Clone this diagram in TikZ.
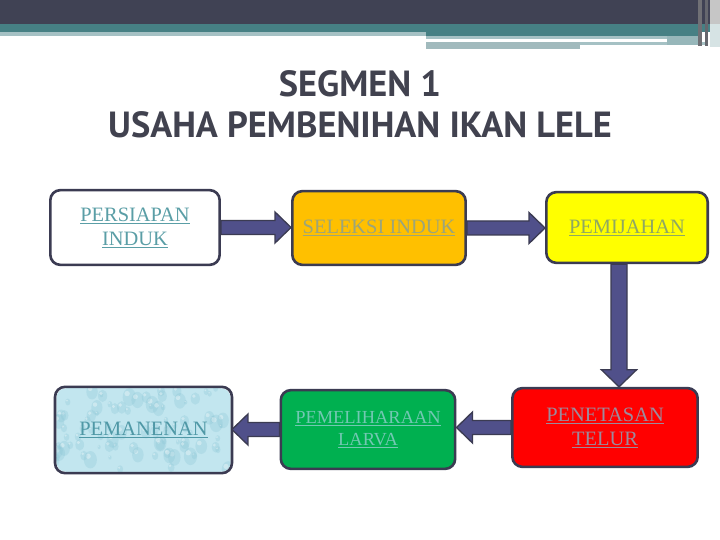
\documentclass[tikz,border=0pt]{standalone}
\usepackage{fontspec}
\setmainfont{Liberation Serif}
\newfontfamily\titlefont{PT Sans}
\usetikzlibrary{calc}

\definecolor{topdark}{HTML}{404254}
\definecolor{topteal}{HTML}{468084}
\definecolor{toplight}{HTML}{A5C1C4}
\definecolor{titlegray}{HTML}{41424F}
\definecolor{boxline}{HTML}{3B3B52}
\definecolor{arrfill}{HTML}{50508A}
\definecolor{seleksifill}{HTML}{FFC000}
\definecolor{pemijahanfill}{HTML}{FFFF00}
\definecolor{larvafill}{HTML}{00B050}
\definecolor{telurfill}{HTML}{FF0000}
\definecolor{waterfill}{HTML}{C2E6EF}
\definecolor{dropcol}{HTML}{8CC6D6}
\definecolor{lnkwhite}{HTML}{5A9EA6}
\definecolor{lnkorange}{HTML}{9CA57A}
\definecolor{lnkyellow}{HTML}{8FA862}
\definecolor{lnkwater}{HTML}{4F98A6}
\definecolor{lnkgreen}{HTML}{72C8B2}
\definecolor{lnkred}{HTML}{9C8A9C}

% block arrows between boxes
\newcommand{\harrow}[3]{% #3 = 1 to the right, -1 to the left
  \draw[fatarr] ($(#1)+(0,-7)$) -- ($(#2 |- #1)+(-16*#3,-7)$) -- ($(#2 |- #1)+(-16*#3,-15.5)$)
    -- (#2 |- #1) -- ($(#2 |- #1)+(-16*#3,15.5)$) -- ($(#2 |- #1)+(-16*#3,7)$) -- ($(#1)+(0,7)$) -- cycle;}
\newcommand{\varrow}[2]{%
  \draw[fatarr] ($(#1)+(-8,0)$) -- ($(#2 -| #1)+(-8,-17)$) -- ($(#2 -| #1)+(-17.5,-17)$)
    -- (#2 -| #1) -- ($(#2 -| #1)+(17.5,-17)$) -- ($(#2 -| #1)+(8,-17)$) -- ($(#1)+(8,0)$) -- cycle;}
\newcommand{\lnk}[1]{\underline{#1}}

\begin{document}
\begin{tikzpicture}[x=1bp, y=-1bp,
  step box/.style={draw=boxline, line width=2.6bp, rounded corners=10bp, align=center, inner sep=2bp,
    font=\fontsize{20.5}{24}\selectfont},
  fatarr/.style={fill=arrfill, draw=boxline, line width=1.3bp, line join=miter},
  ttl/.style={anchor=base, text=titlegray, font=\titlefont\bfseries\fontsize{36.5}{41}\selectfont, inner sep=0pt}]
\useasboundingbox[fill=white] (0,0) rectangle (720,540);

%header bars
\fill[topdark] (0,0) rectangle (720,24);
\fill[topteal] (0,24) rectangle (720,32);
\fill[topteal] (426,32) rectangle (700,36);
\fill[toplight] (0,32) rectangle (426,36);
\fill[toplight] (426,36) rectangle (700,39);
\fill[toplight!90!gray] (426,42) rectangle (580,49);
\fill[toplight] (580,42) rectangle (705,45);
\fill[toplight!85!topteal] (667,36) rectangle (700,45);
\fill[gray!75!topdark] (698,0) rectangle (702,46);
\fill[gray!60!topdark] (705,0) rectangle (708,46);
\fill[gray!45] (710,0) rectangle (720,24);
\fill[toplight!45] (710,24) rectangle (720,47);

%title
\node[ttl] (title1) at (360,97) {SEGMEN 1};
\node[ttl] (title2) at (360,138) {USAHA PEMBENIHAN IKAN LELE};

%row 1
\node[step box, fill=white, text=lnkwhite, minimum width=170, minimum height=75] (persiapan) at (135,227.5) {\lnk{PERSIAPAN}\\\lnk{INDUK}};
\node[step box, fill=seleksifill, text=lnkorange, minimum width=174, minimum height=74] (seleksi) at (379,228) {\lnk{SELEKSI INDUK}};
\node[step box, fill=pemijahanfill, text=lnkyellow, minimum width=162, minimum height=71] (pemijahan) at (627,227.5) {\lnk{PEMIJAHAN}};

%row 2
\node[step box, draw=none, fill=waterfill, minimum width=175, minimum height=84] (pemanenan) at (143.5,430) {};
\begin{scope}
\clip[rounded corners=10bp] (pemanenan.south west) rectangle (pemanenan.north east);
\pgfmathsetseed{11}
\foreach \k in {1,...,90}{
  \pgfmathsetmacro{\dx}{56+175*rnd}
  \pgfmathsetmacro{\dy}{388+84*rnd}
  \pgfmathsetmacro{\dr}{2+7*rnd}
  \fill[dropcol, opacity=.3] (\dx,\dy) ellipse ({\dr*0.75} and \dr);
  \fill[white, opacity=.35] (\dx-\dr*0.25,\dy-\dr*0.4) circle (\dr*0.3);
}
\end{scope}
\draw[boxline, line width=2.6bp, rounded corners=10bp] (pemanenan.south west) rectangle (pemanenan.north east);
\node[align=center, text=lnkwater, font=\fontsize{20.5}{24}\selectfont] (pemanenantxt) at (pemanenan) {\lnk{PEMANENAN}};
\node[step box, fill=larvafill, text=lnkgreen, minimum width=175, minimum height=79,
  font=\fontsize{18.5}{22}\selectfont] (pemeliharaan) at (368,429.5) {\lnk{PEMELIHARAAN}\\\lnk{LARVA}};
\node[step box, fill=telurfill, text=lnkred, minimum width=186, minimum height=79] (penetasan) at (605,427.5) {\lnk{PENETASAN}\\\lnk{TELUR}};

%arrows
\harrow{persiapan.east}{seleksi.west}{1}
\harrow{seleksi.east}{pemijahan.west}{1}
\coordinate (drop) at ($(pemijahan.south)+(-8,0)$);
\varrow{drop}{penetasan.north}
\harrow{penetasan.west}{pemeliharaan.east}{-1}
\harrow{pemeliharaan.west}{pemanenan.east}{-1}
\end{tikzpicture}
\end{document}
